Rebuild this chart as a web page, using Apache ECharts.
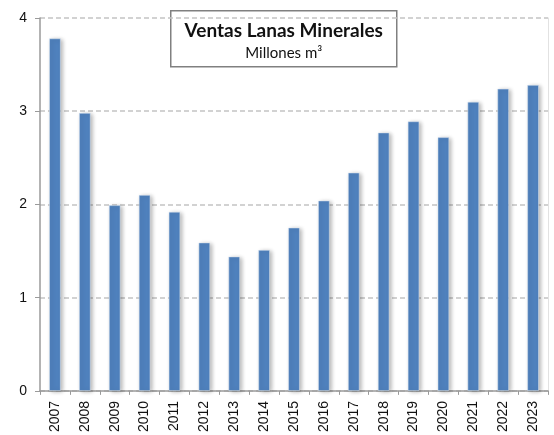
<!DOCTYPE html>
<html>
<head>
<meta charset="utf-8">
<script src="https://cdn.jsdelivr.net/npm/echarts@6/dist/echarts.min.js"></script>
<style>
    html, body { margin: 0; padding: 0; background: #fff; }
    #container { width: 554px; height: 435px; }
</style>
</head>
<body>
<div id="container"></div>
<script>
// datos
var years = ['2007','2008','2009','2010','2011','2012','2013','2014','2015','2016','2017','2018','2019','2020','2021','2022','2023'];
var ventas = [3.78, 2.98, 1.99, 2.10, 1.92, 1.59, 1.44, 1.51, 1.75, 2.04, 2.34, 2.77, 2.89, 2.72, 3.10, 3.24, 3.28];
var yTicks = [0, 4, 1]; // min, max, intervalo
var titulo = 'Ventas Lanas Minerales';
var subtitulo = 'Millones m³';

var fuente = 'Lato, "Open Sans", sans-serif';
var fuenteEjes = '"Liberation Sans", Arial, sans-serif';

var dom = document.getElementById("container");
var myChart = echarts.init(dom);
var option = {
    animation: false,
    textStyle: { fontFamily: fuente },
    // recuadro del titulo
    graphic: [{
        type: 'group',
        left: 170,
        top: 10,
        z: 100,
        children: [{
            type: 'rect',
            shape: { x: 0, y: 0, width: 226, height: 56 },
            style: { fill: '#fff', stroke: '#808080', lineWidth: 1.5 }
        }, {
            type: 'text',
            x: 113,
            y: 20,
            style: {
                text: titulo,
                fill: '#111',
                font: 'bold 19px ' + fuente,
                align: 'center',
                verticalAlign: 'middle'
            }
        }, {
            type: 'text',
            x: 113,
            y: 42,
            style: {
                text: subtitulo,
                fill: '#111',
                font: '15px ' + fuente,
                align: 'center',
                verticalAlign: 'middle'
            }
        }]
    }],
    grid: {
        left: 40,
        right: 6,
        top: 18,
        bottom: 44
    },
    xAxis: {
        type: 'category',
        data: years,
        axisLine: { lineStyle: { color: '#9a9a9a', width: 1.5 } },
        axisTick: { show: true, length: 4, lineStyle: { color: '#9a9a9a' } },
        axisLabel: { rotate: 90, margin: 10, fontSize: 14, color: '#111', fontFamily: fuenteEjes }
    },
    yAxis: [{
        type: 'value',
        min: yTicks[0],
        max: yTicks[1],
        interval: yTicks[2],
        axisLine: { show: true, lineStyle: { color: '#9a9a9a', width: 1.5 } },
        axisTick: { show: true, length: 5, lineStyle: { color: '#9a9a9a' } },
        axisLabel: { fontSize: 14, color: '#111', margin: 13, fontFamily: fuenteEjes },
        splitLine: { lineStyle: { color: '#c4c4c4', type: [5, 3], width: 1.5 } }
    }, {
        type: 'value',
        position: 'right',
        min: yTicks[0],
        max: yTicks[1],
        interval: yTicks[2],
        axisLine: { show: true, lineStyle: { color: '#e2e2e2', width: 1 } },
        axisTick: { show: false },
        axisLabel: { show: false },
        splitLine: { show: false }
    }],
    series: [{
        name: 'Ventas',
        type: 'bar',
        data: ventas,
        barWidth: '38%',
        itemStyle: {
            color: '#4f81bd',
            borderColor: '#dce6f2',
            borderWidth: 0.5,
            shadowColor: 'rgba(0,0,0,0.3)',
            shadowBlur: 4,
            shadowOffsetX: 2,
            shadowOffsetY: 1
        }
    }]
};
myChart.setOption(option, true);
</script>
</body>
</html>
